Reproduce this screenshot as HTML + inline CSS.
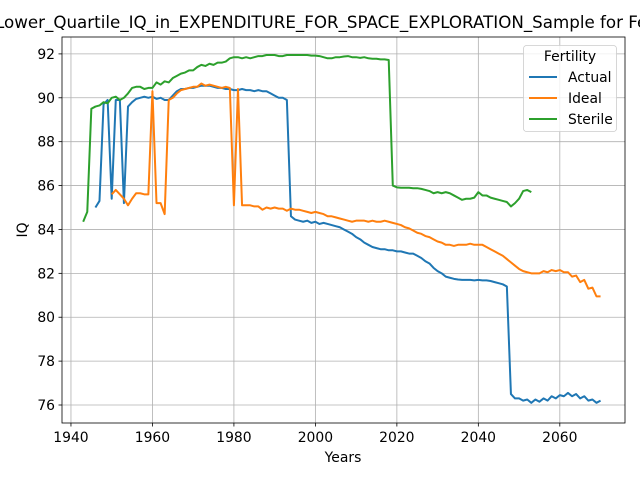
<!DOCTYPE html>
<html><head><meta charset="utf-8"><style>
body{margin:0;background:#fff;}
svg{font-family:"DejaVu Sans","Liberation Sans",sans-serif;}
</style></head><body>
<svg id="chart" width="640" height="480">
<rect width="640" height="480" fill="#fff"/>
<text x="343" y="28" font-size="16.7" text-anchor="middle">Lower_Quartile_IQ_in_EXPENDITURE_FOR_SPACE_EXPLORATION_Sample for Fertility</text>
<g id="grid"></g><g id="series"></g><g id="axes"></g>
<text x="343" y="462" font-size="13.9" text-anchor="middle">Years</text>
<text x="27" y="230" font-size="13.9" text-anchor="middle" transform="rotate(-90 27 230)">IQ</text>
<g id="legend"></g>
</svg>
<script>
const xTicks=[1940,1960,1980,2000,2020,2040,2060];
const yTicks=[76,78,80,82,84,86,88,90,92];
const seriesNames=["Actual","Ideal","Sterile"];
const seriesColors=["#1f77b4","#ff7f0e","#2ca02c"];
const seriesStart=[1946,1950,1943];
const actual=[85.0,85.3,89.7,89.9,85.4,89.9,89.9,85.2,89.6,89.8,89.95,90.0,90.05,90.0,90.05,89.95,90.0,89.9,89.9,90.1,90.3,90.4,90.4,90.45,90.45,90.5,90.55,90.55,90.55,90.5,90.45,90.45,90.4,90.4,90.35,90.35,90.4,90.35,90.35,90.3,90.35,90.3,90.3,90.2,90.1,90.0,90.0,89.9,84.6,84.45,84.4,84.35,84.4,84.3,84.35,84.25,84.3,84.25,84.2,84.15,84.1,84.0,83.9,83.8,83.65,83.55,83.4,83.3,83.2,83.15,83.1,83.1,83.05,83.05,83.0,83.0,82.95,82.9,82.9,82.8,82.7,82.55,82.45,82.25,82.1,82.0,81.85,81.8,81.75,81.72,81.7,81.7,81.7,81.68,81.7,81.68,81.68,81.65,81.6,81.55,81.5,81.4,76.5,76.3,76.3,76.2,76.25,76.1,76.25,76.15,76.3,76.2,76.4,76.3,76.45,76.4,76.55,76.4,76.5,76.3,76.4,76.2,76.25,76.1,76.2];
const ideal=[85.6,85.8,85.6,85.4,85.1,85.4,85.65,85.65,85.6,85.6,90.3,85.2,85.2,84.7,89.9,90.0,90.2,90.35,90.4,90.45,90.5,90.5,90.65,90.55,90.6,90.55,90.5,90.45,90.5,90.45,85.1,90.4,85.1,85.1,85.1,85.05,85.05,84.9,85.0,84.95,85.0,84.95,84.95,84.85,84.95,84.9,84.9,84.85,84.8,84.75,84.8,84.75,84.7,84.6,84.6,84.55,84.5,84.45,84.4,84.35,84.4,84.4,84.4,84.35,84.4,84.35,84.35,84.4,84.35,84.3,84.25,84.2,84.1,84.05,83.95,83.85,83.8,83.7,83.65,83.55,83.45,83.4,83.3,83.3,83.25,83.3,83.3,83.3,83.35,83.3,83.3,83.3,83.2,83.1,83.0,82.9,82.8,82.65,82.5,82.35,82.2,82.1,82.05,82.0,82.0,82.0,82.1,82.05,82.15,82.1,82.15,82.05,82.05,81.85,81.9,81.6,81.7,81.3,81.35,80.95,80.95];
const sterile=[84.35,84.8,89.5,89.6,89.65,89.8,89.75,90.0,90.05,89.9,90.0,90.2,90.45,90.5,90.5,90.4,90.45,90.45,90.7,90.6,90.75,90.7,90.9,91.0,91.1,91.15,91.25,91.25,91.4,91.5,91.45,91.55,91.5,91.6,91.6,91.65,91.8,91.85,91.85,91.8,91.85,91.8,91.85,91.9,91.9,91.95,91.95,91.95,91.9,91.9,91.95,91.95,91.95,91.95,91.95,91.95,91.92,91.92,91.9,91.85,91.8,91.8,91.85,91.85,91.88,91.9,91.85,91.85,91.82,91.85,91.8,91.78,91.78,91.75,91.75,91.72,86.0,85.92,85.9,85.9,85.9,85.88,85.88,85.85,85.8,85.75,85.65,85.7,85.65,85.7,85.65,85.55,85.45,85.35,85.4,85.4,85.45,85.7,85.55,85.55,85.45,85.4,85.35,85.3,85.25,85.05,85.2,85.4,85.75,85.8,85.7];
const seriesData=[actual,ideal,sterile];
const L=62,R=625,T=37,B=423;
const xMin=1937.8,xMax=2076.0,yMin=75.18,yMax=92.77;
const xs=v=>L+(v-xMin)/(xMax-xMin)*(R-L);
const ys=v=>B-(v-yMin)/(yMax-yMin)*(B-T);
const NS="http://www.w3.org/2000/svg";
function mk(tag,attrs,parent){const e=document.createElementNS(NS,tag);for(const k in attrs)e.setAttribute(k,attrs[k]);parent.appendChild(e);return e;}
const grid=document.getElementById('grid'),axes=document.getElementById('axes'),ser=document.getElementById('series'),leg=document.getElementById('legend');
xTicks.forEach(t=>{const x=xs(t);
 const g=mk('line',{x1:x,x2:x,y1:T,y2:B,stroke:'#b0b0b0','stroke-width':0.8},grid);
 
 
 mk('line',{x1:x,x2:x,y1:B,y2:B+3.5,stroke:'#000','stroke-width':0.8},axes);
 const tx=mk('text',{x:x,y:B+19,'font-size':13.9,'text-anchor':'middle'},axes);tx.textContent=t;
 
 
});
yTicks.forEach(t=>{const y=ys(t);
 const g=mk('line',{x1:L,x2:R,y1:y,y2:y,stroke:'#b0b0b0','stroke-width':0.8},grid);
 
 
 mk('line',{x1:L-3.5,x2:L,y1:y,y2:y,stroke:'#000','stroke-width':0.8},axes);
 const tx=mk('text',{x:L-7,y:y+5,'font-size':13.9,'text-anchor':'end'},axes);tx.textContent=t;
 
 
});
const fr=mk('rect',{x:L,y:T,width:R-L,height:B-T,fill:'none',stroke:'#000','stroke-width':0.8},axes);


seriesData.forEach((d,i)=>{
 const pts=d.map((v,j)=>xs(seriesStart[i]+j).toFixed(2)+','+ys(v).toFixed(2)).join(' ');
 const p=mk('polyline',{points:pts,fill:'none',stroke:seriesColors[i],'stroke-width':2,'stroke-linejoin':'round'},ser);
 
 
});
mk('rect',{x:523.5,y:45.5,width:93,height:86,rx:3,fill:'#fff','fill-opacity':0.8,stroke:'#ccc','stroke-width':0.8},leg);
const lt=mk('text',{x:570,y:61,'font-size':13.9,'text-anchor':'middle'},leg);lt.textContent='Fertility';


seriesNames.forEach((n,i)=>{const y=77+i*21;
 mk('line',{x1:529,x2:557,y1:y,y2:y,stroke:seriesColors[i],'stroke-width':2},leg);
 const t=mk('text',{x:568,y:y+5,'font-size':13.9},leg);t.textContent=n;
 
 
});
</script>
</body></html>
